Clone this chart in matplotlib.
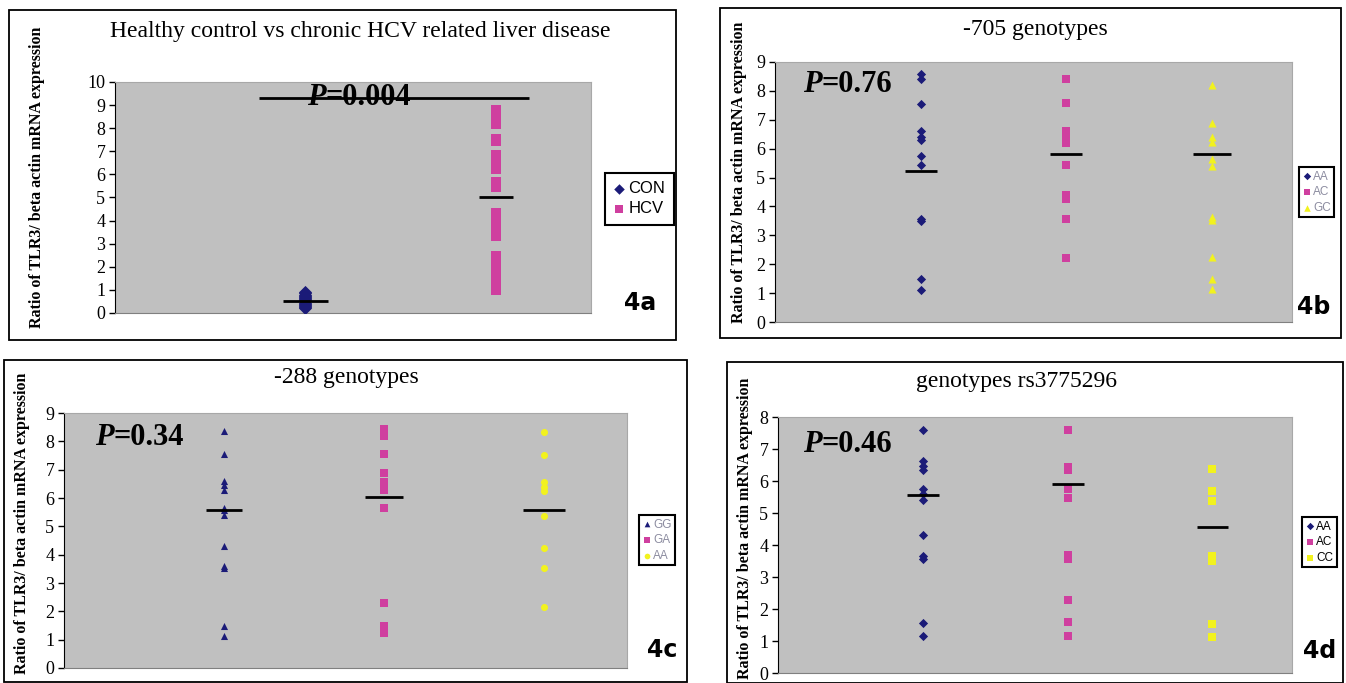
import matplotlib
matplotlib.use("Agg")
import matplotlib.pyplot as plt
from matplotlib.patches import Rectangle

# ---------------------------
# Data
# ---------------------------
a_labels = ["CON", "HCV"]
a_con = [0.2, 0.25, 0.3, 0.35, 0.4, 0.45, 0.5, 0.55, 0.6, 0.65, 0.7,
         0.75, 0.8, 0.85, 0.9]
a_hcv = [8.8, 8.7, 8.6, 8.5, 8.4, 8.3, 8.2,
         7.55, 7.45,
         6.85, 6.75, 6.65, 6.55, 6.45, 6.35, 6.25,
         5.65, 5.55, 5.45,
         4.35, 4.25, 4.15, 4.05, 3.95, 3.85, 3.75, 3.65, 3.55, 3.45, 3.35,
         2.45, 2.35, 2.25, 2.15, 2.05, 1.95, 1.85, 1.75, 1.65, 1.55, 1.45,
         1.35, 1.25, 1.15, 1.05, 1.0]
a_medians = [0.5, 5.0]
a_p = "0.004"

b_labels = ["AA", "AC", "GC"]
b_aa = [8.6, 8.4, 7.55, 6.6, 6.4, 6.3, 5.75, 5.45, 3.58, 3.5, 1.5, 1.12]
b_ac = [8.42, 7.58, 6.6, 6.5, 6.4, 6.3, 6.2, 5.45, 4.38, 4.27, 3.58, 2.22]
b_gc = [8.2, 6.9, 6.4, 6.22, 5.65, 5.4, 3.62, 3.52, 2.25, 1.5, 1.15]
b_medians = [5.22, 5.8, 5.8]
b_p = "0.76"

c_labels = ["GG", "GA", "AA"]
c_gg = [8.35, 7.56, 6.6, 6.45, 6.27, 5.65, 5.58, 5.4, 4.3, 3.6, 3.53, 1.5, 1.13]
c_ga = [8.45, 8.3, 8.2, 7.56, 6.9, 6.55, 6.45, 6.27, 5.65, 2.3, 1.47, 1.25]
c_aa = [8.33, 7.53, 6.55, 6.4, 6.24, 5.36, 4.25, 3.54, 2.14]
c_medians = [5.56, 6.02, 5.56]
c_p = "0.34"

d_labels = ["AA", "AC", "CC"]
d_aa = [7.6, 6.62, 6.47, 6.34, 5.75, 5.6, 5.4, 4.31, 3.66, 3.55, 1.56, 1.16]
d_ac = [7.6, 6.44, 6.34, 5.75, 5.46, 3.69, 3.55, 2.29, 1.58, 1.16]
d_cc = [6.37, 5.69, 5.39, 3.66, 3.51, 1.53, 1.12]
d_medians = [5.55, 5.9, 4.55]
d_p = "0.46"

titles = ["Healthy control vs chronic HCV related liver disease",
          "-705 genotypes", "-288 genotypes", "genotypes rs3775296"]
panel_tags = ["4a", "4b", "4c", "4d"]
ylabel = "Ratio of TLR3/ beta actin mRNA expression"

# ---------------------------
# Style / layout
# ---------------------------
W, H = 1346, 683
NAVY = "#1b1b78"
PINK = "#cf3f9f"
YELLOW = "#f2f21e"
GRAY = "#c0c0c0"
SERIF = "Liberation Serif"
SANS = "Liberation Sans"
TAGFONT = ["Liberation Sans Narrow", "DejaVu Sans"]


def fx(x):
    return x / W


def fy(y):
    return 1 - y / H


def rect(l, t, r, b):
    return [fx(l), fy(b), (r - l) / W, (b - t) / H]


fig = plt.figure(figsize=(W / 100, H / 100), dpi=100)
fig.patch.set_facecolor("white")


def frame(l, t, r, b):
    fig.add_artist(Rectangle((fx(l), fy(b)), (r - l) / W, (b - t) / H,
                             transform=fig.transFigure, fill=False,
                             ec="black", lw=1.3))


def make_axes(box, ymax, xmax):
    ax = fig.add_axes(rect(*box))
    ax.set_facecolor(GRAY)
    ax.set_xlim(0, xmax)
    ax.set_ylim(0, ymax)
    ax.set_xticks([])
    ax.set_yticks(range(ymax + 1))
    ax.tick_params(axis="y", direction="out", length=4, width=1,
                   labelsize=13, pad=3)
    for t in ax.get_yticklabels():
        t.set_fontfamily(SERIF)
    ax.spines["left"].set_color("black")
    ax.spines["bottom"].set_color("#808080")
    ax.spines["top"].set_color("#a8a8a8")
    ax.spines["right"].set_color("#a8a8a8")
    return ax


def plot_groups(ax, series, colors, markers, sizes, medians, halves):
    handles = []
    for i, vals in enumerate(series):
        h = ax.scatter([i + 1] * len(vals), vals, c=colors[i],
                       marker=markers[i], s=sizes[i], linewidths=0,
                       zorder=3)
        handles.append(h)
        ax.hlines(medians[i], i + 1 - halves[i], i + 1 + halves[i],
                  color="black", lw=2, zorder=4)
    return handles


def p_text(ax, x, y, value):
    # italic bold P followed by "=value"
    p = ax.text(x, y, "P", transform=ax.transAxes, family=SERIF,
                fontsize=22, fontweight="bold", fontstyle="italic",
                ha="left", va="center", zorder=6)
    rest = ax.annotate("=" + value, xy=(1, 0), xycoords=p, family=SERIF,
                       fontsize=22, fontweight="bold", ha="left",
                       va="bottom", zorder=6)
    return p, rest


def add_legend(handles, labels, l, t, size, color, pad=0.3):
    leg = fig.legend(handles, labels, loc="upper left",
                     bbox_to_anchor=(fx(l), fy(t)), frameon=True,
                     fancybox=False, edgecolor="black", framealpha=1,
                     prop={"family": SANS, "size": size},
                     handletextpad=0.2, borderpad=pad, labelspacing=0.3,
                     handlelength=0.7, borderaxespad=0, markerscale=0.8,
                     labelcolor=color)
    leg.get_frame().set_linewidth(1.5)
    return leg


def side_texts(title_xy, label_xy, tag_xy, title, tag):
    fig.text(fx(title_xy[0]), fy(title_xy[1]), title, family=SERIF,
             fontsize=17, ha="center", va="center")
    fig.text(fx(label_xy[0]), fy(label_xy[1]), ylabel, family=SERIF,
             fontsize=11.5, fontweight="bold", rotation=90,
             ha="center", va="center")
    fig.text(fx(tag_xy[0]), fy(tag_xy[1]), tag, family=TAGFONT,
             fontweight="bold", fontsize=17, ha="center", va="center")


# ---------------------------
# Panel 4a
# ---------------------------
frame(9, 10, 676, 340)
ax_a = make_axes((115, 82, 591, 313), 10, 2.5)
h_a = plot_groups(ax_a, [a_con, a_hcv], [NAVY, PINK], ["D", "s"],
                  [45, 55], a_medians, [0.12, 0.09])
ax_a.hlines(9.3, 0.756, 2.174, color="black", lw=2, zorder=5)
pa, ra = p_text(ax_a, 0.0, 0.0, a_p)
# centre the P=0.004 text over the bar
fig.canvas.draw()
tw = ra.get_window_extent().x1 - pa.get_window_extent().x0
pa.set_transform(ax_a.transData)
pa.set_position((1.28, 9.35))
fig.canvas.draw()
shift = pa.get_window_extent().x0 - (fx(359) * W - tw / 2)
pa.set_position((1.28 - shift / (476 / 2.5), 9.35))
side_texts((360, 32), (37, 177), (640, 303), titles[0], panel_tags[0])
add_legend(h_a, a_labels, 605, 173, 12, "black", pad=0.5)

# ---------------------------
# Panel 4b
# ---------------------------
frame(720, 8, 1341, 338)
ax_b = make_axes((775, 62, 1292, 322), 9, 3.55)
h_b = plot_groups(ax_b, [b_aa, b_ac, b_gc], [NAVY, PINK, YELLOW],
                  ["D", "s", "^"], [22, 30, 34], b_medians,
                  [0.11, 0.11, 0.13])
p_text(ax_b, (803 - 775) / 517, (322 - 85) / 260, b_p)
side_texts((1035, 30), (739, 172), (1314, 307), titles[1], panel_tags[1])
add_legend(h_b, b_labels, 1299, 167, 8.5, "#8c8ca0")

# ---------------------------
# Panel 4c
# ---------------------------
frame(4, 360, 687, 682)
ax_c = make_axes((64, 413, 627, 668), 9, 3.52)
h_c = plot_groups(ax_c, [c_gg, c_ga, c_aa], [NAVY, PINK, YELLOW],
                  ["^", "s", "o"], [26, 30, 26], c_medians,
                  [0.115, 0.12, 0.13])
p_text(ax_c, (95 - 64) / 563, (668 - 437) / 255, c_p)
side_texts((346, 378), (22, 523), (662, 650), titles[2], panel_tags[2])
add_legend(h_c, c_labels, 639, 515, 8.5, "#8c8ca0")

# ---------------------------
# Panel 4d
# ---------------------------
frame(727, 362, 1343, 683)
ax_d = make_axes((778, 417, 1292, 673), 8, 3.55)
h_d = plot_groups(ax_d, [d_aa, d_ac, d_cc], [NAVY, PINK, YELLOW],
                  ["D", "s", "s"], [22, 30, 30], d_medians,
                  [0.11, 0.11, 0.105])
p_text(ax_d, (803 - 778) / 514, (673 - 444) / 256, d_p)
side_texts((1016, 382), (745, 528), (1320, 651), titles[3], panel_tags[3])
add_legend(h_d, d_labels, 1302, 517, 8.5, "black")

fig.savefig("out.png", dpi=100)
